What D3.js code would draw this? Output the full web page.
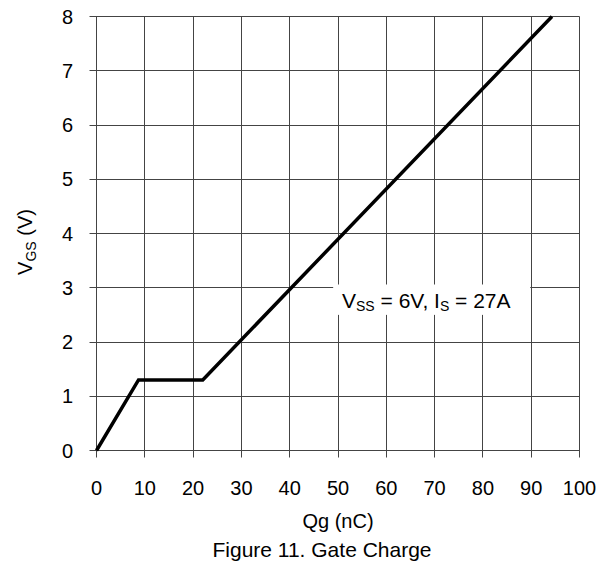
<!DOCTYPE html>
<html>
<head>
<meta charset="utf-8">
<script src="https://cdn.jsdelivr.net/npm/d3@7"></script>
<style>
  body { margin: 0; background: #fff; }
  text { font-family: "Liberation Sans", Arial, sans-serif; fill: #000; }
</style>
</head>
<body>
<script>
// gate charge curve
var qg  = [0, 8.7, 22, 94.3];
var vgs = [0, 1.3, 1.3, 8];
var xTicks = [0, 10, 20, 30, 40, 50, 60, 70, 80, 90, 100];
var yTicks = [0, 1, 2, 3, 4, 5, 6, 7, 8];

function draw_chart(width, height) {
  var svg = d3.select("body")
    .append("svg")
    .attr("width", 605)
    .attr("height", 571);

  var g = svg.append("g").attr("transform", "translate(96.5, 16.5)");

  var x = d3.scaleLinear().domain([0, 100]).range([0, width]);
  var y = d3.scaleLinear().domain([0, 8]).range([height, 0]);

  // grid
  g.selectAll(".vgrid")
    .data(xTicks)
    .enter()
    .append("line")
      .attr("x1", function(d) { return Math.round(x(d)); })
      .attr("x2", function(d) { return Math.round(x(d)); })
      .attr("y1", 0)
      .attr("y2", height + 7)
      .attr("stroke", "#444")
      .attr("stroke-width", 1);

  g.selectAll(".hgrid")
    .data(yTicks)
    .enter()
    .append("line")
      .attr("y1", function(d) { return Math.round(y(d)); })
      .attr("y2", function(d) { return Math.round(y(d)); })
      .attr("x1", -7)
      .attr("x2", width)
      .attr("stroke", "#444")
      .attr("stroke-width", 1);

  // tick labels
  g.selectAll(".xl")
    .data(xTicks)
    .enter()
    .append("text")
      .attr("x", function(d) { return x(d); })
      .attr("y", height + 44)
      .attr("text-anchor", "middle")
      .attr("font-size", 20)
      .text(function(d) { return d; });

  g.selectAll(".yl")
    .data(yTicks)
    .enter()
    .append("text")
      .attr("x", -23.5)
      .attr("y", function(d) { return y(d) + 7; })
      .attr("text-anchor", "end")
      .attr("font-size", 20)
      .text(function(d) { return d; });

  // curve
  var line = d3.line()
    .x(function(d, i) { return x(qg[i]); })
    .y(function(d, i) { return y(vgs[i]); });

  g.append("path")
    .datum(qg)
    .attr("d", line)
    .attr("fill", "none")
    .attr("stroke", "#000")
    .attr("stroke-width", 3.5)
    .attr("stroke-linejoin", "miter");

  // annotation
  g.append("rect")
    .attr("x", x(49))
    .attr("y", y(3.06))
    .attr("width", x(89.8) - x(49))
    .attr("height", y(2.5) - y(3.06))
    .attr("fill", "#fff");

  var note = g.append("text")
    .attr("x", 342 - 96.5)
    .attr("y", 308 - 16.5)
    .attr("font-size", 21);
  note.append("tspan").text("V");
  note.append("tspan").attr("font-size", 14).attr("dy", 3).text("SS");
  note.append("tspan").attr("dy", -3).text(" = 6V, I");
  note.append("tspan").attr("font-size", 14).attr("dy", 3).text("S");
  note.append("tspan").attr("dy", -3).text(" = 27A");

  // axis titles
  g.append("text")
    .attr("x", width / 2)
    .attr("y", height + 77.5)
    .attr("text-anchor", "middle")
    .attr("font-size", 20)
    .text("Qg (nC)");

  g.append("text")
    .attr("x", 322 - 96.5)
    .attr("y", height + 106)
    .attr("text-anchor", "middle")
    .attr("font-size", 21)
    .text("Figure 11. Gate Charge");

  var yt = g.append("text")
    .attr("transform", "translate(-64.5," + (242 - 16.5) + ") rotate(-90)")
    .attr("text-anchor", "middle")
    .attr("font-size", 20);
  yt.append("tspan").text("V");
  yt.append("tspan").attr("font-size", 14).attr("dy", 4).text("GS");
  yt.append("tspan").attr("dy", -4).text(" (V)");
}

draw_chart(483, 434);
</script>
</body>
</html>
